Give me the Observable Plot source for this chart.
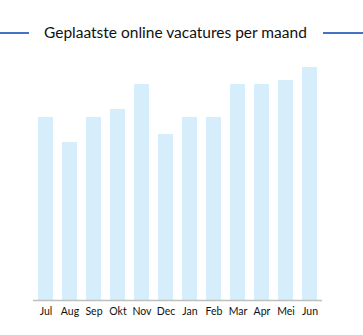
<!DOCTYPE html>
<html><head><meta charset="utf-8">
<script src="https://cdn.jsdelivr.net/npm/d3@7"></script>
<script src="https://cdn.jsdelivr.net/npm/@observablehq/plot@0.6"></script>
<style>
body{margin:0;background:#fff;width:363px;height:335px;overflow:hidden;font-family:Lato,"Open Sans",sans-serif;}
#title{position:relative;height:55px;}
#title .line{position:absolute;top:32px;height:2px;background:#4472c4;}
#title .txt{position:absolute;top:22px;left:44px;white-space:nowrap;font-size:15.5px;color:#111;line-height:20px;}
</style>
</head><body>
<div id="title"><div class="line" style="left:0;width:29px"></div><div class="line" style="left:323px;width:40px"></div><div class="txt">Geplaatste online vacatures per maand</div></div>
<div id="chart"></div>
<script>
const months = ["Jul","Aug","Sep","Okt","Nov","Dec","Jan","Feb","Mar","Apr","Mei","Jun"];
const vacatures = [183,158,183,191,216,166,183,183,216,216,220,233];
const data = months.map((m,i)=>({maand:m, waarde:vacatures[i]}));
const chart = Plot.plot({
  width:363, height:280,
  marginTop:12, marginBottom:35, marginLeft:28, marginRight:37,
  style:{fontFamily:"Lato, 'Open Sans', sans-serif", fontSize:"10.5px", color:"#111", background:"#fff"},
  x:{domain:months, padding:0.378, label:null, tickSize:0, tickPadding:7},
  y:{domain:[0,233], axis:null},
  marks:[
    Plot.barY(data,{x:"maand", y:"waarde", fill:"#d6edfb"}),
    Plot.ruleY([0],{stroke:"#bfbfbf", strokeWidth:1.5, insetLeft:5, insetRight:4})
  ]
});
document.getElementById("chart").appendChild(chart);
</script>
</body></html>
